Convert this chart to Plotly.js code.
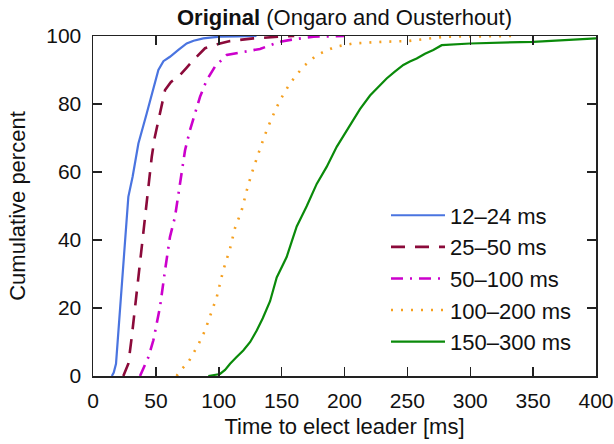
<!DOCTYPE html>
<html>
<head>
<meta charset="utf-8">
<script src="https://cdn.plot.ly/plotly-3.0.1.min.js"></script>
<style>html,body{margin:0;padding:0;background:#fff;}#chart{width:614px;height:444px;}</style>
</head>
<body>
<div id="chart"></div>
<script>
// Series labels
const seriesNames = ["12–24 ms", "25–50 ms", "50–100 ms", "100–200 ms", "150–300 ms"];

// 12–24 ms
const s1x = [15, 16.5, 18.3, 21, 24.1, 26, 28.1, 31.5, 36.1, 42.7, 48, 52, 56, 61.2, 67.9, 74.5, 80, 87.7, 95, 101, 115, 130];
const s1y = [0, 1, 3.6, 18, 33, 44, 52.7, 58.6, 68.4, 77.2, 85, 90, 92.6, 93.9, 95.9, 97.8, 98.6, 99.3, 99.6, 99.8, 99.9, 100];

// 25–50 ms
const s2x = [24.1, 26, 28.1, 30.8, 34.8, 38.7, 42.7, 46.7, 49, 52, 57.3, 62, 67.9, 74, 79.8, 89.1, 101, 109, 127.5, 148.7, 160];
const s2y = [0, 1.5, 3.6, 11.4, 25.2, 37, 50.7, 64.4, 70, 75.3, 84.1, 86.5, 88, 90.5, 92.9, 96.4, 97.8, 98.5, 99.3, 99.8, 100];

// 50–100 ms
const s3x = [37.4, 44, 48, 53.3, 57.3, 61.2, 65.2, 69.2, 73.2, 77.1, 81.1, 85.1, 90.4, 97, 106.3, 120, 132.8, 148.7, 159.3, 175.2, 200];
const s3y = [0, 5.5, 10.5, 20.3, 31.1, 40.9, 46.8, 56.6, 66.4, 72.3, 77.2, 82.1, 87, 91, 94.4, 95.4, 96.2, 98.3, 99, 99.8, 100];

// 100–200 ms
const s4x = [66.5, 70, 75.8, 83.7, 89.1, 93, 98.4, 103.6, 109, 112.9, 118.3, 122.2, 126.2, 131.5, 136.8, 142.1, 148.7, 156.7, 167.2, 177.9, 192.4, 207, 230, 250, 270.6, 280, 335];
const s4y = [0, 1.8, 4.1, 9.2, 13.4, 17.3, 23.2, 31.1, 37.5, 43.5, 48.8, 54.5, 59.6, 65.4, 71, 75.8, 81.1, 86.1, 91, 94.4, 96.8, 97.8, 98.3, 98.5, 99.3, 99.8, 100];

// 150–300 ms
const s5x = [91.7, 96, 101, 105, 109, 114, 119.5, 125, 130.2, 135, 140.8, 146.1, 150, 154, 158, 162, 166, 170, 177.9, 185.8, 193.8, 201.7, 208, 212.3, 220.3, 228.2, 233.5, 240, 246.8, 252, 257.4, 264, 270.6, 277.3, 299.8, 350.1, 399.2, 400];
const s5y = [0, 0.2, 0.6, 1.8, 3.6, 5.5, 7.5, 10, 13.4, 17, 22, 29, 32, 35, 39.5, 44, 47, 50, 56.5, 61.5, 67.4, 72.3, 76, 78.5, 82.5, 85.5, 87.5, 89.5, 91.5, 92.5, 93.4, 94.8, 95.9, 97.3, 97.8, 98.3, 99.2, 99.3];

// Axis ticks
const xTicks = [0, 50, 100, 150, 200, 250, 300, 350, 400];
const yTicks = [0, 20, 40, 60, 80, 100];

const xs = [s1x, s2x, s3x, s4x, s5x];
const ys = [s1y, s2y, s3y, s4y, s5y];
const colors = ["#4a74e0", "#8b0a3a", "#cc00cc", "#f5a020", "#0a8a0a"];
const dashes = ["solid", "14px,10px", "12px,7px,2px,7px", "2px,8px", "solid"];
const widths = [2.2, 2.6, 2.6, 2.6, 2.2];

const traces = seriesNames.map((n, i) => ({
  x: xs[i], y: ys[i], name: n, type: "scatter", mode: "lines",
  legendgroup: "g" + i,
  line: {color: colors[i], dash: dashes[i], width: widths[i]},
  cliponaxis: true
}));

const fontFam = "Liberation Sans, Arial, Helvetica, sans-serif";
const axisCommon = {
  showgrid: false, zeroline: false, showline: true, linecolor: "#222", linewidth: 1.5,
  mirror: "ticks", ticks: "inside", ticklen: 9, tickwidth: 1.5, tickcolor: "#222",
  tickfont: {family: fontFam, size: 21, color: "#111"}, automargin: false
};

const layout = {
  width: 614, height: 444,
  margin: {l: 93, r: 18, t: 36, b: 68},
  paper_bgcolor: "#fff", plot_bgcolor: "#fff",
  font: {family: fontFam, color: "#111"},
  title: {text: "<b>Original</b> (Ongaro and Ousterhout)", font: {family: fontFam, size: 22, color: "#111"},
          x: 0.5, xref: "paper", xanchor: "center", y: 0.962, yref: "container", yanchor: "middle"},
  xaxis: Object.assign({}, axisCommon, {
    range: [0, 400], tickvals: xTicks, ticktext: xTicks.map(String), ticklabelstandoff: 5,
    title: {text: "Time to elect leader [ms]", font: {family: fontFam, size: 22, color: "#111"}, standoff: 8}
  }),
  yaxis: Object.assign({}, axisCommon, {
    range: [0, 100], tickvals: yTicks, ticktext: yTicks.map(String), ticklabelstandoff: 6,
    title: {text: "Cumulative percent", font: {family: fontFam, size: 22, color: "#111"}, standoff: 14}
  }),
  showlegend: true,
  legend: {x: 0.5825, y: 0.534, xanchor: "left", yanchor: "top", bgcolor: "rgba(0,0,0,0)",
           font: {family: fontFam, size: 22, color: "#111"}, traceorder: "grouped", tracegroupgap: 0,
           itemwidth: 54}
};

Plotly.newPlot("chart", traces, layout, {displayModeBar: false, staticPlot: true});
</script>
</body>
</html>
